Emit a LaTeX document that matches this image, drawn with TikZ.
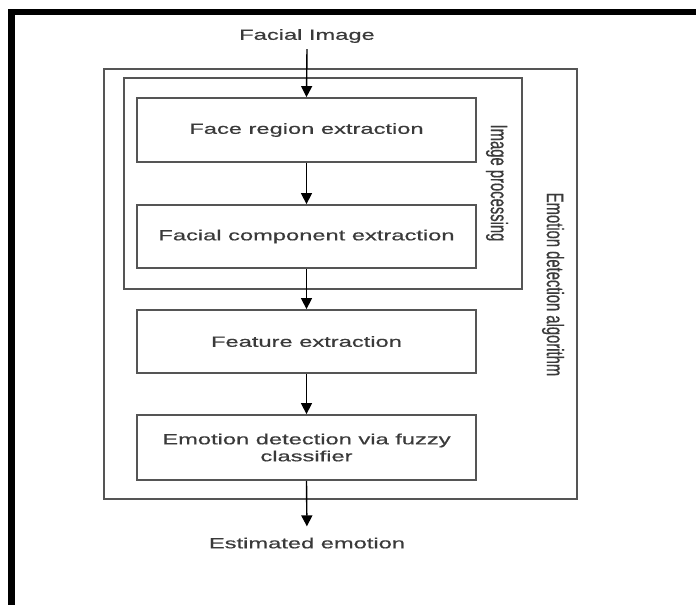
\documentclass[tikz,border=0pt]{standalone}
\usepackage{fontspec}
\usetikzlibrary{arrows.meta}
\newfontfamily\widefont[FakeStretch=1.6,FakeBold=0.6]{Liberation Sans}
\newfontfamily\plainfont[FakeBold=0.6]{Liberation Sans}
\definecolor{txt}{HTML}{3A3A3A}
\definecolor{ln}{HTML}{555555}
\tikzset{
  every node/.style={text=txt, font=\widefont\fontsize{14.8}{17}\selectfont},
  stagebox/.style={draw=ln, line width=1.8pt, minimum width=339pt, minimum height=64pt, align=center, inner sep=0pt},
  framebox/.style={draw=ln, line width=1.8pt, inner sep=0pt},
  arr/.style={draw=black, line width=1.4pt, -{Triangle[length=11pt,width=11pt]}},
  lbl/.style={inner sep=2pt}
}
\begin{document}
\begin{tikzpicture}[x=1pt,y=-1pt]
\useasboundingbox (0,0) rectangle (696,605);
% black border (top and left)
\fill[black] (8,9) rectangle (696,15);
\fill[black] (8,9) rectangle (15,605);
% frames
\node[framebox, minimum width=473pt, minimum height=430pt] (alg) at (340.5,284) {};
\node[framebox, minimum width=398pt, minimum height=211pt] (proc) at (323,183.5) {};
% stages
\node[stagebox] (face) at (306.5,130) {Face region extraction};
\node[stagebox, minimum height=63pt] (comp) at (306.5,236.5) {Facial component extraction};
\node[stagebox, minimum height=63pt] (feat) at (306.5,341.5) {Feature extraction};
\node[stagebox, minimum height=65pt] (emo) at (306.5,447.5) {Emotion detection via fuzzy\\classifier};
% input / output
\node[lbl] (fi) at (307,36) {Facial Image};
\node[lbl] (est) at (307,543) {Estimated emotion};
% rotated labels
\node[inner sep=0pt] (iplbl) at (497,183) {\scalebox{1.6}[1]{\rotatebox{-90}{\plainfont\fontsize{14.8}{17}\selectfont Image processing}}};
\node[inner sep=0pt] (alglbl) at (553,284.5) {\scalebox{1.6}[1]{\rotatebox{-90}{\plainfont\fontsize{14.8}{17}\selectfont Emotion detection algorithm}}};
% connectors
\draw[arr] ([yshift=-4pt]fi.south) -- (face.north);
\draw[arr] (face.south) -- (comp.north);
\draw[arr] (comp.south) -- (feat.north);
\draw[arr] (feat.south) -- (emo.north);
\draw[arr, shorten >=9pt] (emo.south) -- (est.north);
\end{tikzpicture}
\end{document}
